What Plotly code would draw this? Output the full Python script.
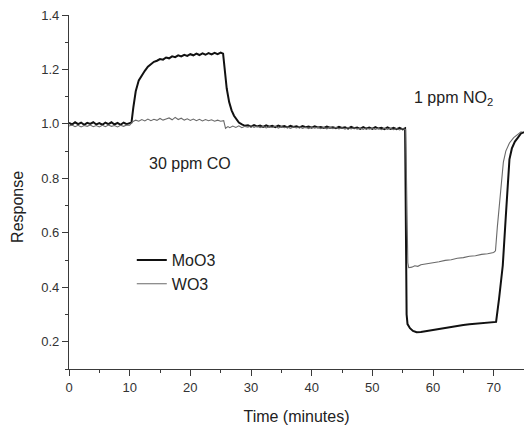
import plotly.graph_objects as go

# ---------------- data ----------------
moo3_time = [
    0, 0.5, 1, 1.5, 2, 2.5, 3, 3.5, 4, 4.5, 5, 5.5, 6, 6.5, 7, 7.5, 8, 8.5, 9, 9.5, 10,
    10.3, 10.6, 11, 11.5, 12, 12.5, 13, 13.5, 14, 14.5, 15, 15.5, 16, 16.5, 17, 17.5,
    18, 18.5, 19, 19.5, 20, 20.5, 21, 21.5, 22, 22.5, 23, 23.5, 24, 24.5, 25, 25.4,
    25.7, 26, 26.4, 26.8, 27.2, 27.6, 28, 28.5, 29,
    29.5, 30, 30.5, 31, 31.5, 32, 32.5, 33, 33.5, 34,
    34.5, 35, 35.5, 36, 36.5, 37, 37.5, 38, 38.5, 39,
    39.5, 40, 40.5, 41, 41.5, 42, 42.5, 43, 43.5, 44,
    44.5, 45, 45.5, 46, 46.5, 47, 47.5, 48, 48.5, 49,
    49.5, 50, 50.5, 51, 51.5, 52, 52.5, 53, 53.5, 54,
    54.5, 55, 55.4,
    55.55, 55.65, 55.8, 56.2, 56.7, 57.3, 58, 59, 60, 61, 62, 63, 64, 65, 66, 67, 68, 69, 70, 70.4,
    70.9, 71.5, 72, 72.3, 72.6, 73, 73.5, 74, 74.5, 75,
]
moo3_response = [
    1.004, 0.998, 1.006, 0.999, 1.005, 0.997, 1.004, 1.000, 1.006, 0.998, 1.003, 0.997, 1.005, 0.999,
    1.006, 0.998, 1.004, 0.997, 1.005, 0.999, 1.003,
    1.005, 1.06, 1.12, 1.16, 1.18, 1.195, 1.21, 1.22, 1.228, 1.232, 1.238, 1.236, 1.244, 1.241, 1.248,
    1.245, 1.252, 1.248, 1.254, 1.250, 1.256, 1.252, 1.258, 1.253, 1.259, 1.254, 1.260, 1.255, 1.261,
    1.256, 1.262, 1.258,
    1.20, 1.13, 1.08, 1.05, 1.03, 1.015, 1.005, 0.998, 0.993,
    0.995, 0.990, 0.996, 0.991, 0.994, 0.989, 0.995, 0.990, 0.993, 0.988,
    0.994, 0.990, 0.992, 0.987, 0.993, 0.989, 0.991, 0.987, 0.992, 0.988,
    0.990, 0.986, 0.991, 0.987, 0.989, 0.985, 0.990, 0.986, 0.988, 0.984,
    0.989, 0.985, 0.988, 0.983, 0.989, 0.984, 0.987, 0.982, 0.988, 0.983,
    0.987, 0.982, 0.988, 0.983, 0.986, 0.981, 0.987, 0.982, 0.986, 0.981,
    0.986, 0.980, 0.984,
    0.60, 0.30, 0.265, 0.25, 0.24, 0.235, 0.236, 0.240, 0.244, 0.248, 0.252, 0.256, 0.258, 0.262,
    0.264, 0.266, 0.268, 0.270, 0.272, 0.273,
    0.36, 0.48, 0.66, 0.78, 0.87, 0.91, 0.935, 0.95, 0.965, 0.97,
]

wo3_time = [
    0, 0.5, 1, 1.5, 2, 2.5, 3, 3.5, 4, 4.5, 5, 5.5, 6, 6.5, 7, 7.5, 8, 8.5, 9, 9.5, 10,
    10.5, 11, 11.5, 12, 12.5, 13, 13.5, 14, 14.5, 15,
    15.5, 16, 16.5, 17, 17.5, 18, 18.5, 19, 19.5, 20,
    20.5, 21, 21.5, 22, 22.5, 23, 23.5, 24, 24.5, 25,
    25.5, 25.8, 26.2,
    26.5, 27, 27.5, 28, 28.5, 29, 29.5, 30, 30.5, 31,
    31.5, 32, 32.5, 33, 33.5, 34, 34.5, 35, 35.5, 36,
    36.5, 37, 37.5, 38, 38.5, 39, 39.5, 40, 40.5, 41,
    41.5, 42, 42.5, 43, 43.5, 44, 44.5, 45, 45.5, 46,
    46.5, 47, 47.5, 48, 48.5, 49, 49.5, 50, 50.5, 51,
    51.5, 52, 52.5, 53, 53.5, 54, 54.5, 55,
    55.5, 55.7, 55.85, 56, 56.5, 57, 57.5, 58, 59, 60, 61, 62, 63, 64, 65, 66, 67, 68, 69, 70, 70.3,
    70.6, 71, 71.3, 71.6, 72, 72.6, 73.3, 74, 74.6,
]
wo3_response = [
    0.992, 0.996, 0.990, 0.995, 0.989, 0.994, 0.991, 0.996, 0.990, 0.994, 0.989, 0.995, 0.990, 0.996,
    0.991, 0.994, 0.989, 0.995, 0.991, 0.996, 0.995,
    1.008, 1.014, 1.010, 1.016, 1.011, 1.018, 1.012, 1.017, 1.013, 1.020,
    1.014, 1.018, 1.022, 1.015, 1.024, 1.016, 1.021, 1.014, 1.019, 1.013,
    1.018, 1.012, 1.017, 1.011, 1.016, 1.012, 1.015, 1.010, 1.014, 1.010,
    1.012, 0.984, 0.990,
    0.986, 0.992, 0.987, 0.993, 0.986, 0.991, 0.988, 0.994, 0.987, 0.992,
    0.986, 0.991, 0.985, 0.990, 0.987, 0.992, 0.985, 0.990, 0.986, 0.989,
    0.984, 0.989, 0.985, 0.990, 0.984, 0.988, 0.983, 0.989, 0.984, 0.988,
    0.983, 0.987, 0.982, 0.988, 0.983, 0.987, 0.982, 0.986, 0.981, 0.987,
    0.982, 0.986, 0.981, 0.985, 0.980, 0.986, 0.981, 0.985, 0.980, 0.984,
    0.979, 0.985, 0.980, 0.984, 0.979, 0.983, 0.978, 0.983,
    0.979, 0.75, 0.49, 0.472, 0.474, 0.479, 0.477, 0.483, 0.486, 0.491, 0.494, 0.499, 0.501, 0.507,
    0.509, 0.514, 0.516, 0.521, 0.523, 0.528, 0.534,
    0.62, 0.72, 0.80, 0.86, 0.90, 0.93, 0.95, 0.962, 0.972,
]

x_tick_vals = [0, 10, 20, 30, 40, 50, 60, 70]
x_tick_labels = ["0", "10", "20", "30", "40", "50", "60", "70"]
y_tick_vals = [0.2, 0.4, 0.6, 0.8, 1.0, 1.2, 1.4]
y_tick_labels = ["0.2", "0.4", "0.6", "0.8", "1.0", "1.2", "1.4"]

assert len(moo3_time) == len(moo3_response), (len(moo3_time), len(moo3_response))
assert len(wo3_time) == len(wo3_response), (len(wo3_time), len(wo3_response))

FONT = "Liberation Sans, Arial, sans-serif"
AXC = "#3a3a3a"

fig = go.Figure()
fig.add_trace(go.Scatter(x=moo3_time, y=moo3_response, mode="lines", name="MoO3",
                         line=dict(color="#111111", width=2)))
fig.add_trace(go.Scatter(x=wo3_time, y=wo3_response, mode="lines", name="WO3",
                         line=dict(color="#6a6a6a", width=1.1)))

fig.update_layout(
    width=524, height=425,
    margin=dict(l=69, r=0, t=15, b=56),
    paper_bgcolor="white", plot_bgcolor="white",
    font=dict(family=FONT, color="#222222"),
    showlegend=True,
    legend=dict(x=0.138, y=0.356, xanchor="left", yanchor="top",
                bgcolor="rgba(0,0,0,0)", borderwidth=0,
                font=dict(size=16, color="#222222"), tracegroupgap=0),
    xaxis=dict(range=[0, 75], tickmode="array", tickvals=x_tick_vals, ticktext=x_tick_labels,
               ticks="outside", ticklen=6, tickwidth=1.2, tickcolor=AXC,
               showline=True, linecolor=AXC, linewidth=1.3,
               showgrid=False, zeroline=False,
               minor=dict(dtick=5, tick0=0, ticks="outside", ticklen=3, tickcolor=AXC, showgrid=False),
               tickfont=dict(size=13, color="#333333"),
               title=dict(text="Time (minutes)", font=dict(size=16, color="#222222"), standoff=20)),
    yaxis=dict(range=[0.1, 1.4], tickmode="array", tickvals=y_tick_vals, ticktext=y_tick_labels,
               ticks="outside", ticklen=6, tickwidth=1.2, tickcolor=AXC,
               showline=True, linecolor=AXC, linewidth=1.3,
               showgrid=False, zeroline=False,
               minor=dict(dtick=0.1, tick0=0, ticks="outside", ticklen=3, tickcolor=AXC, showgrid=False),
               tickfont=dict(size=13, color="#333333")),
    annotations=[
        dict(text="30 ppm CO", x=12.85, y=0.853, xref="x", yref="y", xanchor="left",
             yanchor="middle", showarrow=False, font=dict(size=16, color="#222222")),
        dict(text="1 ppm NO<sub>2</sub>", x=56.5, y=1.095, xref="x", yref="y", xanchor="left",
             yanchor="middle", showarrow=False, font=dict(size=16, color="#222222")),
        dict(text="Response", x=-0.112, y=0.458, xref="paper", yref="paper", textangle=-90,
             xanchor="center", yanchor="middle", showarrow=False,
             font=dict(size=16, color="#222222")),
    ],
)

# remove the default 8px page margin so the figure sits at the window's top-left corner
fig.write_html("out.html", config={"displayModeBar": False},
               post_script="document.body.style.margin='0';")
